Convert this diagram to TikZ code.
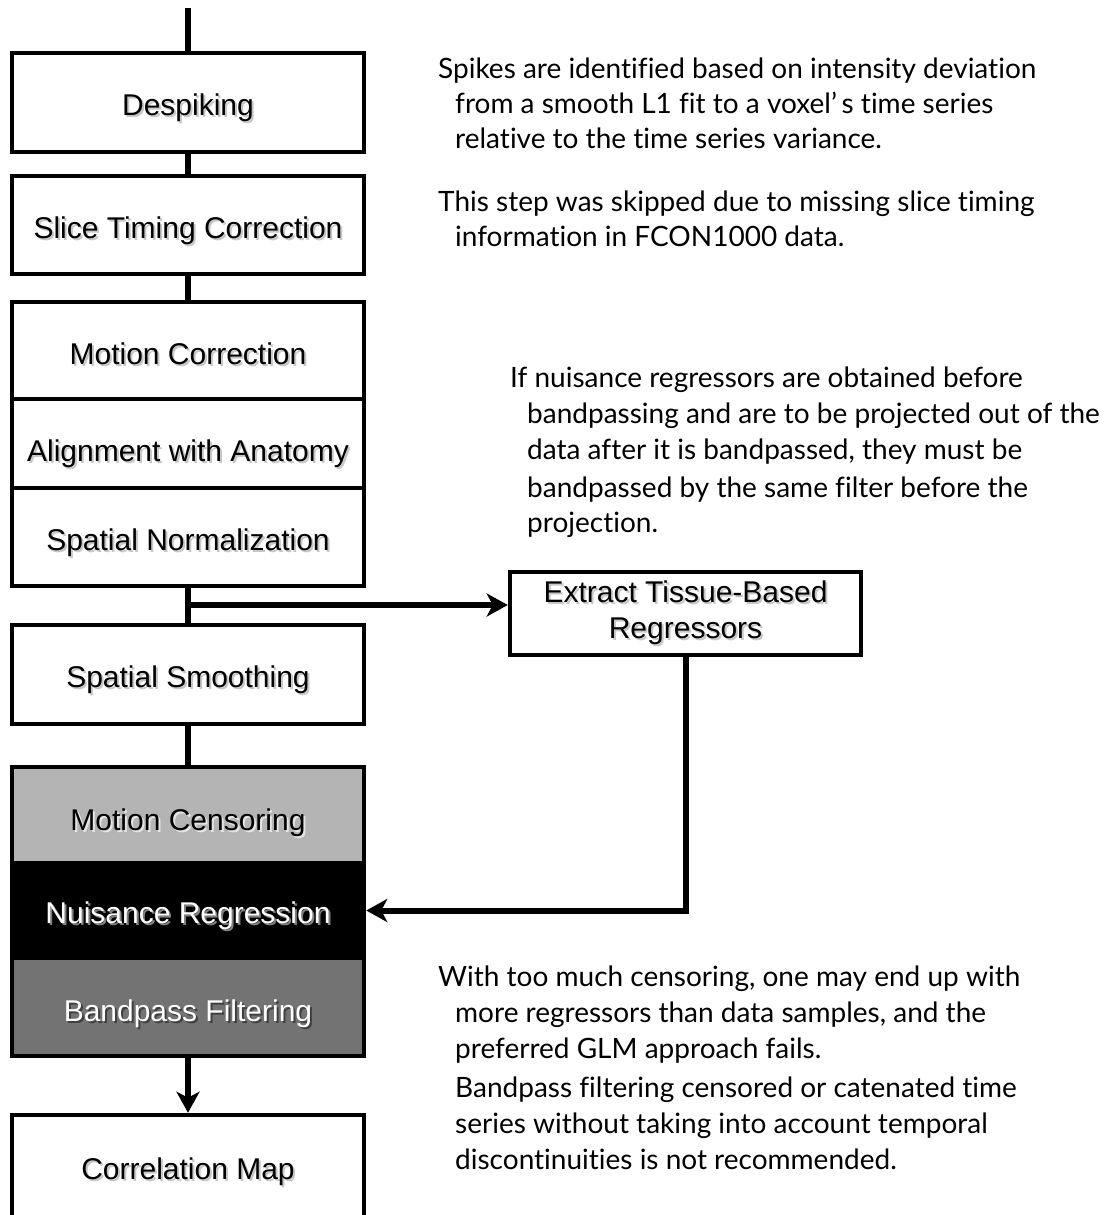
\documentclass[tikz,border=0pt]{standalone}
\usepackage{fontspec}
\setmainfont{Liberation Sans}
\newfontfamily\notefont[Ligatures={NoCommon}]{Lato}
\usetikzlibrary{arrows.meta,positioning}
\newcommand\shd[2]{\leavevmode\rlap{\hspace{2pt}\raisebox{-2pt}{\color{#1}#2}}#2}
\definecolor{censorgray}{HTML}{B4B4B4}
\definecolor{bandgray}{HTML}{737373}
\tikzset{
  box/.style={draw=black, line width=4.5pt, minimum width=352pt, inner sep=0pt,
    font=\fontsize{30}{36}\selectfont, align=center},
  bl/.style={text height=#1, text depth=0pt},
  conn/.style={line width=6pt},
  arr/.style={line width=6pt, -{Stealth[length=21pt,width=23pt,inset=6pt]}},
  note/.style={anchor=base west, inner sep=0pt, font=\notefont\fontsize{28}{36}\selectfont}
}
\begin{document}
\begin{tikzpicture}[x=1pt,y=-1pt]
\useasboundingbox (0,0) rectangle (1109,1215);
\clip (0,0) rectangle (1109,1215);
% left column boxes
\node[box, bl=25pt, minimum height=99pt, fill=white] (desp) at (188,102.5) {\shd{black!22}{Despiking}};
\node[box, bl=26pt, minimum height=98pt, fill=white] (slice) at (188,225) {\shd{black!22}{Slice Timing Correction}};
\node[box, bl=27pt, minimum height=97pt, fill=white] (motion) at (188,350.5) {\shd{black!22}{Motion Correction}};
\node[box, bl=35pt, minimum height=89pt, fill=white] (align) at (188,443.5) {\shd{black!22}{Alignment with Anatomy}};
\node[box, bl=27pt, minimum height=98pt, fill=white] (norm) at (188,537) {\shd{black!22}{Spatial Normalization}};
\node[box, bl=26pt, minimum height=99pt, fill=white] (smooth) at (188,674.5) {\shd{black!22}{Spatial Smoothing}};
\node[box, bl=30pt, minimum height=96pt, fill=censorgray] (censor) at (188,815) {\shd{black!10}{Motion Censoring}};
\node[box, bl=25pt, minimum height=95pt, fill=black, text=white] (nuis) at (188,910.5) {\shd{black!50}{Nuisance Regression}};
\node[box, bl=28pt, minimum height=98pt, fill=bandgray, text=white] (band) at (188,1007) {\shd{black!75}{Bandpass Filtering}};
\node[box, bl=22pt, minimum height=106pt, fill=white] (corr) at (188,1168) {\shd{black!22}{Correlation Map}};
\node[box, minimum width=351pt, minimum height=83pt, fill=white] (extract) at (685.5,613.5)
  {\shd{black!22}{Extract Tissue-Based}\\\shd{black!22}{Regressors}};
% connectors
\coordinate (top) at (188,8);
\coordinate (branch) at (188,605);
\draw[conn] (top) -- (desp.north);
\draw[conn] (desp.south) -- (slice.north);
\draw[conn] (slice.south) -- (motion.north);
\draw[conn] (norm.south) -- (smooth.north);
\draw[conn] (smooth.south) -- (censor.north);
\draw[arr] (branch) -- (branch -| extract.west);
\draw[arr] (extract.south) |- (nuis.east);
\draw[arr] (band.south) -- (corr.north);
% notes
\node[note] (n1a) at (438,78) {Spikes are identified based on intensity deviation};
\node[note] (n1b) at (455,113) {from a smooth L1 fit to a voxel’\,s time series};
\node[note] (n1c) at (455,148) {relative to the time series variance.};
\node[note] (n2a) at (438,211) {This step was skipped due to missing slice timing};
\node[note] (n2b) at (455,246) {information in FCON1000 data.};
\node[note] (n3a) at (510,387) {If nuisance regressors are obtained before};
\node[note] (n3b) at (527,423) {bandpassing and are to be projected out of the};
\node[note] (n3c) at (527,459) {data after it is bandpassed, they must be};
\node[note] (n3d) at (527,497) {bandpassed by the same filter before the};
\node[note] (n3e) at (527,532) {projection.};
\node[note] (n4a) at (438,986) {With too much censoring, one may end up with};
\node[note] (n4b) at (455,1022) {more regressors than data samples, and the};
\node[note] (n4c) at (455,1058) {preferred GLM approach fails.};
\node[note] (n4d) at (455,1097) {Bandpass filtering censored or catenated time};
\node[note] (n4e) at (455,1133) {series without taking into account temporal};
\node[note] (n4f) at (455,1169) {discontinuities is not recommended.};
\end{tikzpicture}
\end{document}
